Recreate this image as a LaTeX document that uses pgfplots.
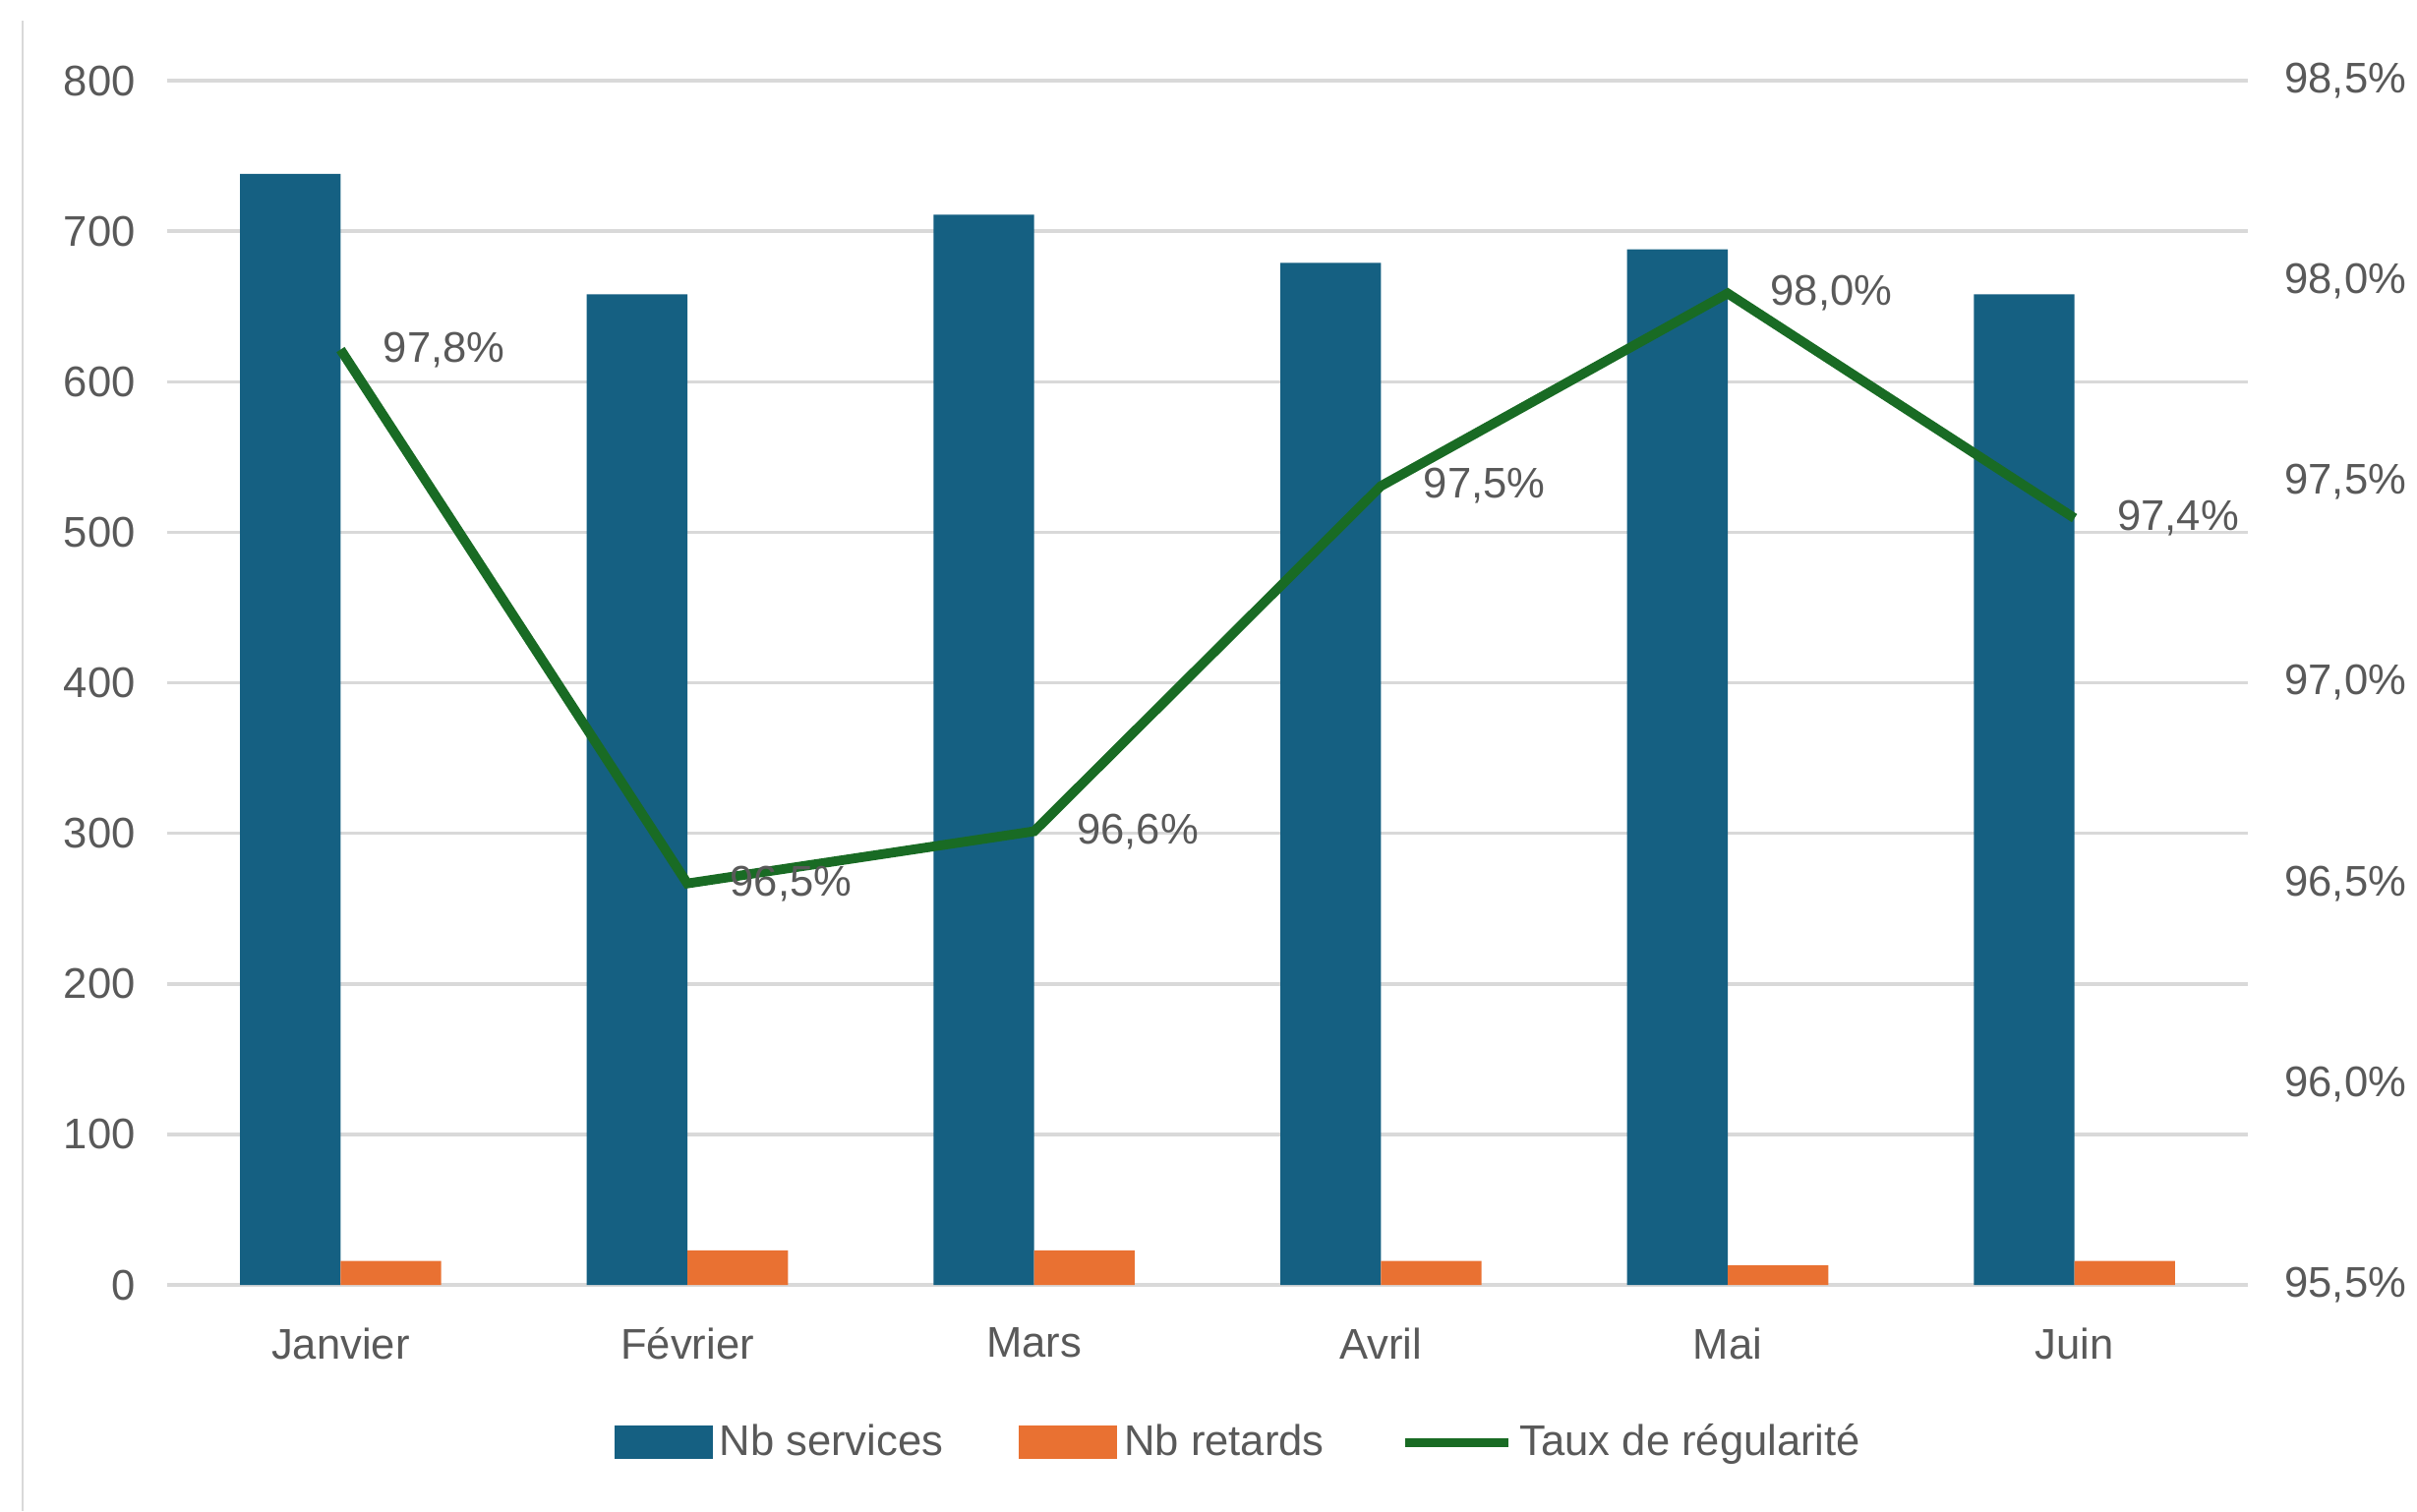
\documentclass[border=0pt]{standalone}
\usepackage{fontspec}
\setmainfont{Liberation Sans}
\usepackage{pgfplots}
\pgfplotsset{compat=1.18}
\definecolor{services}{HTML}{156082}
\definecolor{retards}{HTML}{E97132}
\definecolor{taux}{HTML}{196B24}
\definecolor{txt}{HTML}{595959}
\definecolor{grille}{HTML}{D9D9D9}

\begin{document}
\begin{tikzpicture}[font=\fontsize{12.4}{14}\selectfont]
% left vertical border of the chart area
\draw[grille, line width=0.8pt] (-1.47,-2.30) -- (-1.47,12.86);

\begin{axis}[
  scale only axis, width=21.16cm, height=12.25cm,
  xmin=-0.5, xmax=5.5, ymin=0, ymax=800,
  xtick={0,...,5},
  xticklabels={Janvier,Février,Mars,Avril,Mai,Juin},
  ytick={0,100,...,800},
  ymajorgrids,
  grid style={grille, line width=1pt},
  axis line style={draw=none},
  tick style={draw=none},
  tick label style={text=txt},
  xticklabel style={yshift=-0.16cm},
  yticklabel style={xshift=-0.2cm},
  /pgf/number format/assume math mode=true,
  ybar, bar width=0.29,
  legend columns=3,
  legend style={draw=none, fill=none, text=txt,
    at={(0.516,-0.131)}, anchor=center,
    /tikz/every even column/.append style={column sep=0.7cm}},
]
\addplot[fill=services, draw=none, bar shift=-0.145,
  legend image code/.code={\fill[services] (0cm,-0.17cm) rectangle (1.0cm,0.17cm);}]
  coordinates {(0,738) (1,658) (2,711) (3,679) (4,688) (5,658)};
\addplot[fill=retards, draw=none, bar shift=0.145,
  legend image code/.code={\fill[retards] (0cm,-0.17cm) rectangle (1.0cm,0.17cm);}]
  coordinates {(0,16) (1,23) (2,23) (3,16) (4,13) (5,16)};
\addlegendimage{legend image code/.code={\draw[taux, line width=2.8pt] (0cm,0cm) -- (1.05cm,0cm);}}
\legend{Nb services, Nb retards, Taux de régularité}
\end{axis}

\begin{axis}[
  scale only axis, width=21.16cm, height=12.25cm,
  xmin=-0.5, xmax=5.5, ymin=95.5, ymax=98.5,
  axis x line=none,
  axis y line*=right,
  axis line style={draw=none},
  ytick={95.5,96,96.5,97,97.5,98,98.5},
  tick style={draw=none},
  yticklabel style={text=txt, xshift=0.25cm,
    /pgf/number format/fixed, /pgf/number format/fixed zerofill,
    /pgf/number format/precision=1, /pgf/number format/use comma},
  yticklabel={\pgfmathprintnumber{\tick}\%},
  /pgf/number format/assume math mode=true,
]
\addplot[taux, line width=2.8pt, mark=none,
  nodes near coords, point meta=explicit symbolic,
  every node near coord/.style={anchor=west, xshift=0.27cm, text=txt}]
  coordinates {(0,97.83) [97{,}8\%] (1,96.50) [96{,}5\%] (2,96.63) [96{,}6\%]
               (3,97.49) [97{,}5\%] (4,97.97) [98{,}0\%] (5,97.41) [97{,}4\%]};
\end{axis}
\pgfresetboundingbox
\useasboundingbox (-1.70,-2.30) rectangle (22.88,13.07);
\end{tikzpicture}
\end{document}
